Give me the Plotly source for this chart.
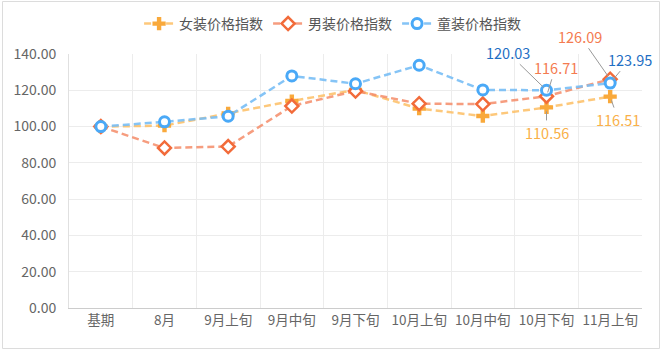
import plotly.graph_objects as go

categories = ["基期", "8月", "9月上旬", "9月中旬", "9月下旬", "10月上旬", "10月中旬", "10月下旬", "11月上旬"]
women = [100.0, 100.5, 107.3, 114.1, 120.2, 109.9, 105.8, 110.56, 116.51]
men = [100.0, 88.2, 89.0, 111.3, 119.6, 112.6, 112.4, 116.71, 126.09]
children = [100.0, 102.6, 105.7, 127.9, 123.6, 133.8, 120.2, 120.03, 123.95]
y_ticks = [0, 20, 40, 60, 80, 100, 120, 140]

W, H = 665, 352
ML, MR, MT, MB = 69, 23, 54, 44
PW, PH = W - ML - MR, H - MT - MB

FONT = "Noto Sans CJK SC, Microsoft YaHei, sans-serif"

fig = go.Figure()

fig.add_trace(go.Scatter(
    x=categories, y=women, name="女装价格指数", mode="lines+markers",
    line=dict(color="rgba(253,190,100,0.85)", width=2.5, dash="7px,4px"),
    marker=dict(symbol="cross", size=11, color="#f9a93b", line=dict(width=0)),
))
fig.add_trace(go.Scatter(
    x=categories, y=men, name="男装价格指数", mode="lines+markers",
    line=dict(color="rgba(245,140,105,0.85)", width=2.5, dash="7px,4px"),
    marker=dict(symbol="diamond", size=10, color="white", line=dict(color="#f26b3a", width=2.5)),
))
fig.add_trace(go.Scatter(
    x=categories, y=children, name="童装价格指数", mode="lines+markers",
    line=dict(color="rgba(120,190,245,0.9)", width=2.5, dash="7px,4px"),
    marker=dict(symbol="circle", size=10, color="white", line=dict(color="#4aa9f7", width=3)),
))

BLUE_T, RED_T, ORG_T = "#1f6fc4", "#f47b50", "#f9b048"
labels = [
    (categories[7], children[7], f"{children[7]:.2f}", -39, -38, BLUE_T),
    (categories[7], men[7], f"{men[7]:.2f}", 9, -29, RED_T),
    (categories[7], women[7], f"{women[7]:.2f}", 0, 25, ORG_T),
    (categories[8], men[8], f"{men[8]:.2f}", -30, -43, RED_T),
    (categories[8], children[8], f"{children[8]:.2f}", 20, -24, BLUE_T),
    (categories[8], women[8], f"{women[8]:.2f}", 8, 23, ORG_T),
]
for x, y, t, ax, ay, c in labels:
    fig.add_annotation(
        x=x, y=y, text=t, showarrow=True, arrowhead=0, arrowwidth=1,
        arrowcolor="#999999", ax=ax, ay=ay, standoff=4,
        font=dict(size=14.5, color=c, family=FONT),
    )

# outer border
fig.add_shape(
    type="rect", xref="paper", yref="paper",
    x0=(2.5 - ML) / PW, x1=(659.5 - ML) / PW,
    y0=(MT + PH - 348.5) / PH, y1=(MT + PH - 1.5) / PH,
    line=dict(color="#dcdcdc", width=1), fillcolor="rgba(0,0,0,0)", layer="below",
)

fig.update_layout(
    width=W, height=H,
    margin=dict(l=ML, r=MR, t=MT, b=MB, autoexpand=False),
    paper_bgcolor="white", plot_bgcolor="white",
    font=dict(family=FONT, size=13, color="#666666"),
    showlegend=True,
    legend=dict(
        orientation="h", x=0.46, xanchor="center",
        y=(MT + PH - 24) / PH, yanchor="middle",
        font=dict(size=14, color="#555555"),
        itemwidth=30, tracegroupgap=0,
    ),
    xaxis=dict(
        type="category", categoryorder="array", categoryarray=categories,
        range=[-0.5, len(categories) - 0.5],
        tickson="boundaries", showgrid=True, gridcolor="#ececec", gridwidth=1,
        showline=True, linecolor="#cccccc", linewidth=1,
        ticks="", tickfont=dict(size=13.5, color="#666666"),
        fixedrange=True, automargin=False,
    ),
    yaxis=dict(
        range=[0, 140], tickvals=y_ticks, tickformat=".2f",
        showgrid=True, gridcolor="#ececec", gridwidth=1,
        showline=True, linecolor="#e0e0e0", linewidth=1,
        zeroline=False, ticks="", ticklabelstandoff=9,
        tickfont=dict(size=14, color="#666666"),
        fixedrange=True, automargin=False,
    ),
)

fig.write_html("out.html")
